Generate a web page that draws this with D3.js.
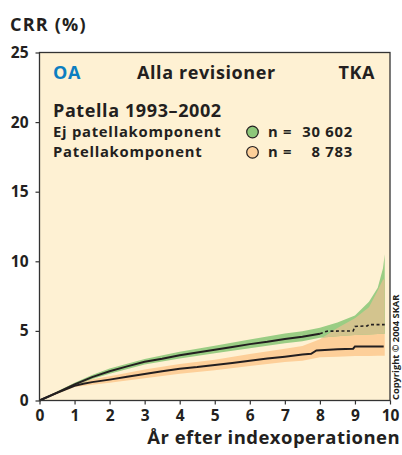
<!DOCTYPE html>
<html><head><meta charset="utf-8">
<script src="https://cdn.jsdelivr.net/npm/d3@7"></script>
<style>
html,body{margin:0;padding:0;background:#fff;}
svg{display:block;}
text{font-family:"Open Sans",sans-serif;font-weight:700;fill:#231f20;}
</style></head>
<body>
<script>
// ---- data ----
const xTicks = [0,1,2,3,4,5,6,7,8,9,10];
const yTicks = [0,5,10,15,20,25];

// Ej patellakomponent (green) – solid part and dashed tail
const greenX = [0,0.5,1,1.5,2,2.5,3,3.5,4,4.5,5,5.5,6,6.5,7,7.5,8];
const greenY = [0,0.57,1.15,1.68,2.1,2.45,2.78,3.0,3.25,3.45,3.65,3.85,4.05,4.22,4.42,4.58,4.8];
const greenTailX = [8,8.2,8.95,9.0,9.35,9.4,9.85];
const greenTailY = [4.8,4.98,5.0,5.32,5.36,5.45,5.45];

// Patellakomponent (orange)
const orangeX = [0,0.5,1,1.25,1.5,2,2.5,3,3.5,4,4.5,5,5.5,6,6.5,7,7.5,7.75,7.9,8.5,8.95,9.0,9.82];
const orangeY = [0,0.55,1.05,1.2,1.32,1.5,1.7,1.9,2.1,2.28,2.4,2.55,2.7,2.85,3.02,3.15,3.3,3.35,3.6,3.68,3.72,3.88,3.88];

// confidence bands
const bandX     = [0,0.5,1,1.5,2,3,4,5,6,7,7.5,8,8.5,9,9.4,9.65,9.8,9.85];
const greenLo   = [0,0.5,1.05,1.55,1.93,2.58,3.02,3.4,3.76,4.12,4.26,4.5,4.62,4.7,4.75,4.78,4.8,4.8];
const greenHi   = [0,0.64,1.28,1.83,2.29,2.99,3.5,3.94,4.38,4.82,4.98,5.22,5.6,6.1,7.1,8.1,9.5,10.5];
const orangeLo  = [0,0.47,0.97,1.14,1.28,1.6,1.93,2.18,2.48,2.76,2.86,3.1,3.15,3.2,3.2,3.22,3.22,3.22];
const orangeHi  = [0,0.63,1.22,1.52,1.74,2.22,2.62,2.92,3.34,3.72,3.92,4.4,5.2,5.9,6.7,7.9,8.7,8.7];

const legendLabels = ["Ej patellakomponent","Patellakomponent"];
const legendN = ["30 602","8 783"];

// ---- drawing ----
const W = 402, H = 455;
const svg = d3.select("body").append("svg").attr("width",W).attr("height",H);
const x = d3.scaleLinear().domain([0,10]).range([39.5,390]);
const y = d3.scaleLinear().domain([0,25]).range([400.5,52.5]);

const C = {bg:"#fef1d3", green:"#9acd84", orange:"#fdcf99", tan:"#d3c48e", line:"#231f20"};

svg.append("rect").attr("x",x(0)).attr("y",y(25)).attr("width",x(10)-x(0)).attr("height",y(0)-y(25))
  .attr("fill",C.bg);

const bandPts = (lo,hi)=> bandX.map((v,i)=>({x:v,lo:lo[i],hi:hi[i]}));
const area = d3.area().x(d=>x(d.x)).y0(d=>y(d.lo)).y1(d=>y(d.hi));

svg.append("defs").append("clipPath").attr("id","oclip")
  .append("path").attr("d",area(bandPts(orangeLo,orangeHi)));

svg.append("path").attr("d",area(bandPts(orangeLo,orangeHi))).attr("fill",C.orange);
svg.append("path").attr("d",area(bandPts(greenLo,greenHi))).attr("fill",C.green);
svg.append("path").attr("d",area(bandPts(greenLo,greenHi))).attr("fill",C.tan).attr("clip-path","url(#oclip)");

const line = d3.line().x(d=>x(d[0])).y(d=>y(d[1]));
svg.append("path").attr("d",line(orangeX.map((v,i)=>[v,orangeY[i]])))
  .attr("fill","none").attr("stroke",C.line).attr("stroke-width",2);
svg.append("path").attr("d",line(greenX.map((v,i)=>[v,greenY[i]])))
  .attr("fill","none").attr("stroke",C.line).attr("stroke-width",2);
svg.append("path").attr("d",line(greenTailX.map((v,i)=>[v,greenTailY[i]])))
  .attr("fill","none").attr("stroke",C.line).attr("stroke-width",1.6).attr("stroke-dasharray","3,2.5");

// frame
svg.append("rect").attr("x",x(0)).attr("y",y(25)).attr("width",x(10)-x(0)).attr("height",y(0)-y(25))
  .attr("fill","none").attr("stroke","#333").attr("stroke-width",1.3);

// axes
const yAxis = d3.axisLeft(y).tickValues(yTicks).tickSize(4).tickPadding(7).tickFormat(d3.format("d"));
const gy = svg.append("g").attr("transform",`translate(${x(0)},0)`).call(yAxis);
const xAxis = d3.axisBottom(x).tickValues(xTicks).tickSize(4).tickPadding(5).tickFormat(d3.format("d"));
const gx = svg.append("g").attr("transform",`translate(0,${y(0)})`).call(xAxis);
[gy,gx].forEach(g=>{
  g.select(".domain").remove();
  g.selectAll(".tick line").attr("stroke","#333").attr("stroke-width",1.2);
  g.selectAll(".tick text").attr("font-family","Open Sans").attr("font-weight",700)
    .attr("font-size",15.5).attr("fill","#231f20");
});

// titles
svg.append("text").attr("x",10).attr("y",31).attr("font-size",18).attr("letter-spacing",1.2).text("CRR (%)");
svg.append("text").attr("x",400).attr("y",444).attr("text-anchor","end").attr("font-size",18.5)
  .attr("letter-spacing",0.45).text("År efter indexoperationen");
svg.append("text").attr("transform","translate(399,400) rotate(-90)").attr("font-size",9.3)
  .text("Copyright © 2004 SKAR");

// header inside plot
const hdr = (tx,xx,anchor,col)=> svg.append("text").attr("x",xx).attr("y",79).attr("font-size",18)
  .attr("letter-spacing",0.6).attr("text-anchor",anchor).style("fill",col||"#231f20").text(tx);
hdr("OA",53,"start","#0b7ec1");
hdr("Alla revisioner",137,"start");
hdr("TKA",375,"end");
svg.append("text").attr("x",53).attr("y",116.5).attr("font-size",18).attr("letter-spacing",0.6).text("Patella 1993–2002");

legendLabels.forEach((lab,i)=>{
  const by = 136.6 + i*20.3;
  svg.append("text").attr("x",53).attr("y",by).attr("font-size",14.8).attr("letter-spacing",0.75).text(lab);
  svg.append("circle").attr("cx",252.5).attr("cy",by-4.6).attr("r",5.8)
    .attr("fill",i===0?"#8dc77a":"#fdcf99").attr("stroke","#231f20").attr("stroke-width",1.2);
  svg.append("text").attr("x",268).attr("y",by).attr("font-size",14.8).attr("letter-spacing",0.75).text("n =");
  svg.append("text").attr("x",353).attr("y",by).attr("text-anchor","end").attr("font-size",14.8)
    .attr("letter-spacing",0.75).text(legendN[i]);
});
</script>
</body></html>
